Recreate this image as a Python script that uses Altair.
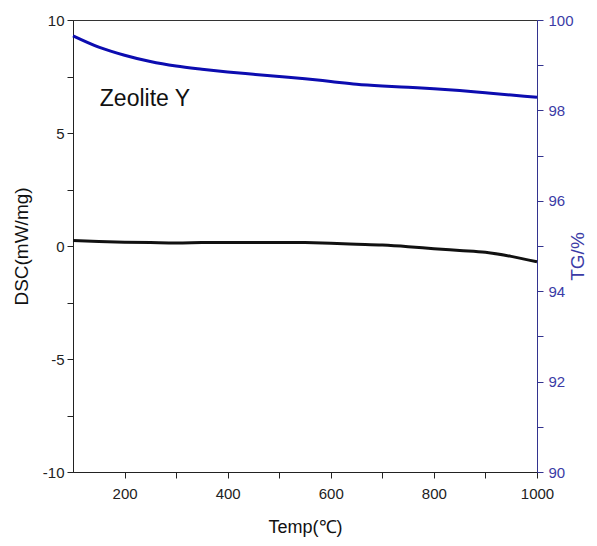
import altair as alt
import pandas as pd

# ---- data ----
temp = [100, 150, 200, 250, 300, 350, 400, 450, 500, 550,
        600, 650, 700, 750, 800, 850, 900, 950, 1000]
dsc = [0.24, 0.20, 0.17, 0.15, 0.13, 0.15, 0.16, 0.16, 0.16, 0.15,
       0.12, 0.08, 0.04, -0.03, -0.12, -0.20, -0.28, -0.46, -0.70]
tg = [99.65, 99.40, 99.22, 99.08, 98.98, 98.91, 98.85, 98.80, 98.75, 98.70,
      98.64, 98.58, 98.54, 98.51, 98.48, 98.44, 98.39, 98.34, 98.29]

x_ticks = [200, 300, 400, 500, 600, 700, 800, 900, 1000]
dsc_ticks = [-10, -7.5, -5, -2.5, 0, 2.5, 5, 7.5, 10]
tg_ticks = [90, 91, 92, 93, 94, 95, 96, 97, 98, 99, 100]

label_text = ["Zeolite Y"]
label_t = [152]
label_dsc = [6.5]

df = pd.DataFrame({"T": temp, "DSC": dsc, "TG": tg})
df_lab = pd.DataFrame({"T": label_t, "DSC": label_dsc, "text": label_text})

FONT = "Liberation Sans, Arial"
NAVY = "#33338f"

x_enc = alt.X(
    "T:Q",
    scale=alt.Scale(domain=[100, 1000], nice=False, zero=False),
    axis=alt.Axis(
        values=x_ticks,
        labelExpr="datum.value % 200 == 0 ? toString(datum.value) : ''",
        title="Temp(℃)",
        grid=False,
        domainColor="#222222",
        tickColor="#222222",
        tickSize=6,
        labelFont=FONT,
        labelFontSize=15,
        labelColor="#222222",
        labelPadding=8,
        labelFlush=False,
        titleFont=FONT,
        titleFontSize=18,
        titleFontWeight="normal",
        titleColor="#111111",
        titlePadding=17,
    ),
)

dsc_line = alt.Chart(df).mark_line(
    color="#111111", strokeWidth=3, interpolate="monotone"
).encode(
    x=x_enc,
    y=alt.Y(
        "DSC:Q",
        scale=alt.Scale(domain=[-10, 10], nice=False, zero=False),
        axis=alt.Axis(
            values=dsc_ticks,
            labelExpr="datum.value % 5 == 0 ? toString(datum.value) : ''",
            title="DSC(mW/mg)",
            grid=False,
            domainColor="#222222",
            tickColor="#222222",
            tickSize=6,
            labelFont=FONT,
            labelFontSize=15,
            labelColor="#222222",
            labelPadding=3,
            titleFont=FONT,
            titleFontSize=19,
            titleFontWeight="normal",
            titleColor="#111111",
            titlePadding=11,
        ),
    ),
)

label = alt.Chart(df_lab).mark_text(
    align="left", baseline="middle", font=FONT, fontSize=23, color="#111111"
).encode(
    x=alt.X("T:Q", scale=alt.Scale(domain=[100, 1000], nice=False, zero=False)),
    y=alt.Y("DSC:Q", scale=alt.Scale(domain=[-10, 10], nice=False, zero=False), axis=None),
    text="text:N",
)

tg_line = alt.Chart(df).mark_line(
    color="#0c0cb0", strokeWidth=3, interpolate="monotone"
).encode(
    x=alt.X("T:Q", scale=alt.Scale(domain=[100, 1000], nice=False, zero=False)),
    y=alt.Y(
        "TG:Q",
        scale=alt.Scale(domain=[90, 100], nice=False, zero=False),
        axis=alt.Axis(
            orient="right",
            values=tg_ticks,
            labelExpr="datum.value % 2 == 0 ? toString(datum.value) : ''",
            title="TG/%",
            titleAngle=270,
            titleBaseline="bottom",
            titleY=236,
            grid=False,
            domainColor=NAVY,
            tickColor=NAVY,
            tickSize=6,
            labelFont=FONT,
            labelFontSize=15,
            labelColor="#3b3ba6",
            labelPadding=5,
            titleFont=FONT,
            titleFontSize=19,
            titleFontWeight="normal",
            titleColor="#3b3ba6",
            titlePadding=14,
        ),
    ),
)

chart = (
    alt.layer(dsc_line, label, tg_line)
    .resolve_scale(y="independent")
    .properties(
        width=464,
        height=452,
        autosize=alt.AutoSizeParams(type="none"),
        padding={"left": 73, "top": 20, "right": 60, "bottom": 74},
        background="white",
    )
    .configure_view(stroke="#333333", strokeWidth=1)
)

chart.save("out.html", embed_options={"renderer": "svg", "actions": False})
